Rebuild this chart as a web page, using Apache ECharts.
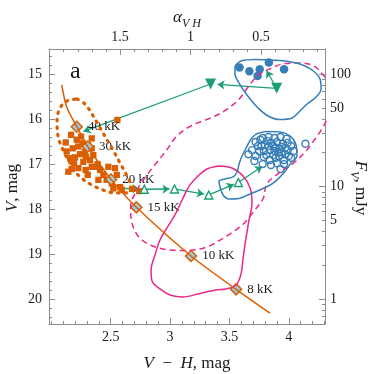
<!DOCTYPE html>
<html><head><meta charset="utf-8">
<script src="https://cdn.jsdelivr.net/npm/echarts@6/dist/echarts.min.js"></script>
<style>html,body{margin:0;padding:0;background:#fff}#c{width:374px;height:374px}</style>
</head><body><div id="c"></div>
<script>
// ---------------- data (V-H colour, V magnitude) ----------------
const trackVH = [2.087, 2.129, 2.214, 2.306, 2.503, 2.716, 3.176, 3.556, 3.842];
const trackV  = [15.244, 15.73, 16.17, 16.61, 17.34, 17.96, 19.04, 19.78, 20.31];
const tempLabels = ['40 kK', '30 kK', '20 kK', '15 kK', '10 kK', '8 kK'];
const tempVH = [2.214, 2.306, 2.503, 2.716, 3.176, 3.556];
const tempV  = [16.17, 16.61, 17.34, 17.96, 19.04, 19.78];

const squaresVH = [2.556,2.121,2.166,2.214,2.250,2.264,2.227,2.180,2.129,2.157,2.199,2.241,2.283,2.340,2.353,2.326,2.269,2.171,2.227,2.289,2.340,2.306,2.390,2.410,2.438,2.480,2.536,2.551,2.466,2.396,2.340,2.508,2.578,2.143,2.292,2.368,2.522,2.593,2.191,2.309,2.68,2.74];
const squaresV  = [16.02,16.52,16.35,16.46,16.39,16.54,16.61,16.65,16.72,16.87,16.85,16.78,16.72,16.65,16.80,16.91,16.95,17.11,17.09,17.13,17.06,17.24,17.00,17.13,17.24,17.06,17.09,17.24,17.35,17.35,16.43,17.43,17.51,17.17,16.84,17.06,17.54,17.57,16.98,16.58,17.55,17.60];

const ellipseVH = [2.216,2.283,2.342,2.401,2.460,2.519,2.578,2.637,2.671,2.629,2.536,2.435,2.326,2.225,2.157,2.098,2.056,2.048,2.073,2.132];
const ellipseV  = [15.555,15.666,15.888,16.154,16.420,16.687,16.975,17.264,17.508,17.641,17.641,17.574,17.441,17.241,16.975,16.687,16.376,16.021,15.755,15.599];

const pinkDashVH = [4.381,4.331,4.305,4.221,4.109,3.968,3.856,3.743,3.659,3.575,3.463,3.362,3.252,3.140,3.042,2.972,2.859,2.775,2.705,2.667,2.677,2.730,2.831,3.000,3.140,3.309,3.477,3.617,3.701,3.786,3.814,3.918,4.038,4.151,4.235,4.291,4.348];
const pinkDashV  = [15.466,15.133,15.067,14.838,14.756,14.767,14.867,15.022,15.282,15.577,15.810,15.954,16.065,16.205,16.420,16.687,17.057,17.352,17.648,17.952,18.285,18.595,18.795,18.906,18.917,18.839,18.595,18.329,18.063,17.752,17.441,17.197,16.982,16.687,16.391,16.170,15.843];

const pinkSolidVH = [3.404,3.522,3.615,3.674,3.690,3.665,3.640,3.615,3.598,3.556,3.471,3.387,3.252,3.109,3.000,2.915,2.848,2.840,2.873,2.915,2.974,3.050,3.109,3.168,3.235,3.311];
const pinkSolidV  = [17.042,17.086,17.264,17.530,17.863,18.240,18.640,19.083,19.438,19.683,19.772,19.794,19.872,19.949,19.905,19.772,19.594,19.350,19.017,18.684,18.418,18.085,17.752,17.463,17.264,17.108];

const blueUpVH = [3.547,3.598,3.716,3.842,3.968,4.095,4.196,4.263,4.272,4.230,4.154,4.086,4.027,3.926,3.825,3.733,3.648,3.581,3.547];
const blueUpV  = [14.822,14.711,14.678,14.689,14.711,14.778,14.911,15.111,15.333,15.510,15.666,15.843,15.976,16.010,15.932,15.732,15.466,15.200,15.000];

const blueLowVH = [3.724,3.817,3.926,4.011,4.061,4.069,4.019,3.977,3.926,3.859,3.775,3.674,3.581,3.497,3.446,3.421,3.412,3.463,3.530,3.564,3.581,3.606,3.640,3.682];
const blueLowV  = [16.332,16.276,16.287,16.376,16.576,16.820,16.975,17.131,17.286,17.441,17.552,17.663,17.763,17.774,17.685,17.508,17.375,17.330,17.286,17.175,16.997,16.820,16.642,16.443];

const filledVH = [3.585,3.668,3.755,3.737,3.832,3.960];
const filledV  = [14.856,14.940,14.893,15.044,14.745,14.896];

const openVH = [4.14,3.93,3.78,3.71,3.66,3.72,3.78,3.83,3.88,3.93,3.98,4.02,4.04,4.00,3.96,3.90,3.84,3.79,3.75,3.69,3.74,3.80,3.85,3.90,3.95,3.99,3.94,3.89,3.84,3.79,3.87,3.92,3.97,3.82,3.76,3.88,3.94,3.99,3.83,3.91,3.77,3.72,3.85,3.81,3.96,4.02,3.89,3.87,3.92,3.97];
const openV  = [16.55,17.11,17.00,16.93,16.78,16.51,16.42,16.40,16.42,16.40,16.44,16.60,16.71,16.82,16.91,16.98,16.91,16.84,16.71,16.69,16.60,16.58,16.53,16.51,16.55,16.69,16.73,16.64,16.69,16.71,16.80,16.82,16.78,16.49,16.46,16.71,16.62,16.53,16.60,16.75,16.60,16.82,17.02,16.80,17.00,16.86,16.86,16.60,16.66,16.64];

// green track: lower (open triangles) and upper (filled triangles)
const lowPathVH = [2.579, 2.783, 3.037, 3.326, 3.575, 3.775];
const lowPathV  = [17.536, 17.559, 17.552, 17.685, 17.408, 17.053];
const triLowVH = [2.783, 3.037, 3.326, 3.575];
const triLowV  = [17.559, 17.552, 17.685, 17.408];
const triUpVH = [3.898, 3.341];
const triUpV  = [15.317, 15.222];
const upFromVH = [3.898, 3.898, 3.341];
const upFromV  = [15.317, 15.317, 15.222];
const upToVH   = [3.80, 3.341, 2.271];
const upToV    = [14.87, 15.222, 16.276];

// axis ticks
const xMajor = [2.5, 3, 3.5, 4];
const yMajor = [15, 16, 17, 18, 19, 20];
const aMajor = [0.5, 1, 1.5];
const fMajorTicks = [1, 10, 100];
const fLabels = [1, 5, 10, 50, 100];
const fMinor = [0.7, 0.8, 0.9, 2, 3, 4, 5, 6, 7, 8, 9, 20, 30, 40, 50, 60, 70, 80, 90];

// ---------------- helpers ----------------
const ORANGE = '#d95f02', GREEN = '#1b9e77', PINK = '#e7298a', BLUE = '#377eb8', LBLUE = '#9ecae1';
const AXC = '#8c8c8c', TXT = '#1a1a1a', FONT = 'Liberation Serif';
const zip = (a, b) => a.map((v, i) => [v, b[i]]);
const closed = (a, b) => { const z = zip(a, b); z.push(z[0].slice()); return z; };
const fToV = f => 15 - 2.5 * Math.log10(f / 100);
const range = (a, b, s, skip) => { const r = []; for (let v = a; v <= b + 1e-9; v += s) { const x = Math.round(v * 100) / 100; if (!skip.some(k => Math.abs(k - x) < 1e-6)) r.push(x); } return r; };

const X0 = 1.98, X1 = 4.305, Y0 = 14.445, Y1 = 20.55, A0 = 0.047, A1 = 2.004;

function axis(pos, min, max, inverse, ticks, len, labels, fmt, margin, line) {
  return {
    type: 'value', position: pos, min, max, inverse, gridIndex: 0,
    axisLine: { show: line, onZero: false, lineStyle: { color: AXC, width: 1 } },
    axisTick: { show: true, inside: true, length: len, customValues: ticks, lineStyle: { color: AXC, width: 1 } },
    axisLabel: labels ? { show: true, customValues: labels, formatter: fmt, fontFamily: FONT, fontSize: 14, color: TXT, margin } : { show: false },
    splitLine: { show: false }, minorTick: { show: false }, minorSplitLine: { show: false }
  };
}
const plain = v => String(v);
const fFmt = v => String(Math.round(100 * Math.pow(10, -(v - 15) / 2.5) * 10) / 10);

const chart = echarts.init(document.getElementById('c'), null, { renderer: 'canvas' });

const richBase = (sz) => ({
  i: { fontStyle: 'italic', fontSize: sz, fontFamily: FONT, fill: TXT, lineHeight: 24, verticalAlign: 'middle' },
  r: { fontSize: sz, fontFamily: FONT, fill: TXT, lineHeight: 24, verticalAlign: 'middle' },
  s: { fontStyle: 'italic', fontSize: 12, fontFamily: FONT, fill: TXT, lineHeight: 24, verticalAlign: 'bottom' }
});
function title(x, y, rot, text) {
  return { type: 'text', x, y, rotation: rot, z: 100,
    style: { text, rich: richBase(17), align: 'center', verticalAlign: 'middle', textAlign: 'center', textVerticalAlign: 'middle' } };
}

const lineS = (data, color, width, type, extra) => Object.assign({
  type: 'line', xAxisIndex: 0, yAxisIndex: 0, data, smooth: 0.35, symbol: 'none', silent: true,
  lineStyle: { color, width, type }, clip: true
}, extra || {});

function lowSegs() { const s = []; for (let i = 0; i < lowPathVH.length - 1; i++) s.push({ p: [lowPathVH[i], lowPathV[i]], q: [lowPathVH[i + 1], lowPathV[i + 1]], gap: i < lowPathVH.length - 2 ? 5 : 0 }); return s; }
function upSegs() { const gaps = [3, 7, 0]; return upFromVH.map((v, i) => ({ p: [v, upFromV[i]], q: [upToVH[i], upToV[i]], gap: gaps[i] })); }

const option = {
  animation: false,
  backgroundColor: '#fff',
  grid: { left: 49, right: 49, top: 49, bottom: 50, containLabel: false },
  xAxis: [
    axis('bottom', X0, X1, false, xMajor, 6, xMajor, plain, 6, true),
    axis('bottom', X0, X1, false, range(2.0, 4.3, 0.1, xMajor), 3, null, null, 0, false),
    axis('top', A0, A1, true, aMajor.concat([2.0]), 6, aMajor, plain, 5, true),
    axis('top', A0, A1, true, range(0.1, 1.9, 0.1, aMajor), 3, null, null, 0, false)
  ],
  yAxis: [
    axis('left', Y0, Y1, true, yMajor, 6, yMajor, plain, 7, true),
    axis('left', Y0, Y1, true, range(14.6, 20.4, 0.2, yMajor), 3, null, null, 0, false),
    axis('right', Y0, Y1, true, fMajorTicks.map(fToV), 6, fLabels.map(fToV), fFmt, 5, true),
    axis('right', Y0, Y1, true, fMinor.map(fToV), 3, null, null, 0, false)
  ],
  graphic: [
    title(187, 364, 0, '{i|V}{r|\u2002\u2212\u2002}{i|H}{r|, mag}'),
    title(13, 188, Math.PI / 2, '{i|V}{r|, mag}'),
    title(360, 188, -Math.PI / 2, '{i|F}{s|V}{r|, mJy}'),
    title(187, 18, 0, '{i|\u03b1}{s|V H}'),
    { type: 'text', x: 70, y: 72, z: 100, style: { text: 'a', fontSize: 24, fontFamily: FONT, fill: TXT, align: 'left', verticalAlign: 'middle', textAlign: 'left', textVerticalAlign: 'middle' } }
  ],
  series: [
    lineS(closed(pinkDashVH, pinkDashV), PINK, 1.5, [6, 4]),
    lineS(closed(pinkSolidVH, pinkSolidV), PINK, 1.5, 'solid'),
    lineS(closed(blueUpVH, blueUpV), BLUE, 1.5, 'solid'),
    lineS(closed(blueLowVH, blueLowV), BLUE, 1.5, 'solid'),
    lineS(closed(ellipseVH, ellipseV), ORANGE, 3.2, [1.5, 6], { lineStyle: { color: ORANGE, width: 3.2, type: [1.5, 6], cap: 'round' } }),
    lineS(zip(trackVH, trackV), ORANGE, 1.5, 'solid', { smooth: 0.25 }),
    { type: 'scatter', xAxisIndex: 0, yAxisIndex: 0, data: zip(squaresVH, squaresV), symbol: 'rect', symbolSize: 6.3, itemStyle: { color: ORANGE, opacity: 1 }, silent: true },
    { type: 'scatter', xAxisIndex: 0, yAxisIndex: 0, data: zip(openVH, openV), symbol: 'circle', symbolSize: 7, itemStyle: { color: 'rgba(255,255,255,0)', borderColor: BLUE, borderWidth: 1.4, opacity: 1 }, silent: true },
    { type: 'scatter', xAxisIndex: 0, yAxisIndex: 0, data: zip(filledVH, filledV), symbol: 'circle', symbolSize: 8.5, itemStyle: { color: BLUE, opacity: 1 }, silent: true },
    { id: 'gl', type: 'lines', coordinateSystem: 'cartesian2d', xAxisIndex: 0, yAxisIndex: 0, symbol: ['none', 'arrow'], symbolSize: 7, silent: true,
      lineStyle: { color: GREEN, width: 1.3, opacity: 1, curveness: 0 }, itemStyle: { color: GREEN },
      data: lowSegs().concat(upSegs()).map(s => ({ coords: [s.p, s.q] })) },
    { type: 'scatter', xAxisIndex: 0, yAxisIndex: 0, data: zip(triLowVH, triLowV), symbol: 'triangle', symbolSize: 8, itemStyle: { color: '#fff', borderColor: GREEN, borderWidth: 1.4, opacity: 1 }, silent: true },
    { type: 'scatter', xAxisIndex: 0, yAxisIndex: 0, data: zip(triUpVH, triUpV), symbol: 'triangle', symbolRotate: 180, symbolSize: 11, itemStyle: { color: GREEN, opacity: 1 }, silent: true },
    { type: 'scatter', xAxisIndex: 0, yAxisIndex: 0, symbol: 'diamond', symbolSize: 11, silent: true,
      data: tempVH.map((v, i) => ({ value: [v, tempV[i]], name: tempLabels[i] })),
      itemStyle: { color: LBLUE, borderColor: ORANGE, borderWidth: 1.5, opacity: 1 },
      label: { show: true, position: 'right', distance: 5, formatter: '{b}', fontFamily: FONT, fontSize: 13, color: TXT } }
  ]
};
chart.setOption(option);

// shorten arrow segments so their heads stop just before the triangle markers
const fnd = { xAxisIndex: 0, yAxisIndex: 0 };
function shorten(s) {
  if (!s.gap) return [s.p, s.q];
  const P = chart.convertToPixel(fnd, s.p), Q = chart.convertToPixel(fnd, s.q);
  const dx = Q[0] - P[0], dy = Q[1] - P[1], d = Math.hypot(dx, dy);
  const t = (d - s.gap) / d;
  return [s.p, chart.convertFromPixel(fnd, [P[0] + dx * t, P[1] + dy * t])];
}
try {
  chart.setOption({ series: [{ id: 'gl', data: lowSegs().concat(upSegs()).map(s => ({ coords: shorten(s) })) }] });
} catch (e) {}
</script></body></html>
